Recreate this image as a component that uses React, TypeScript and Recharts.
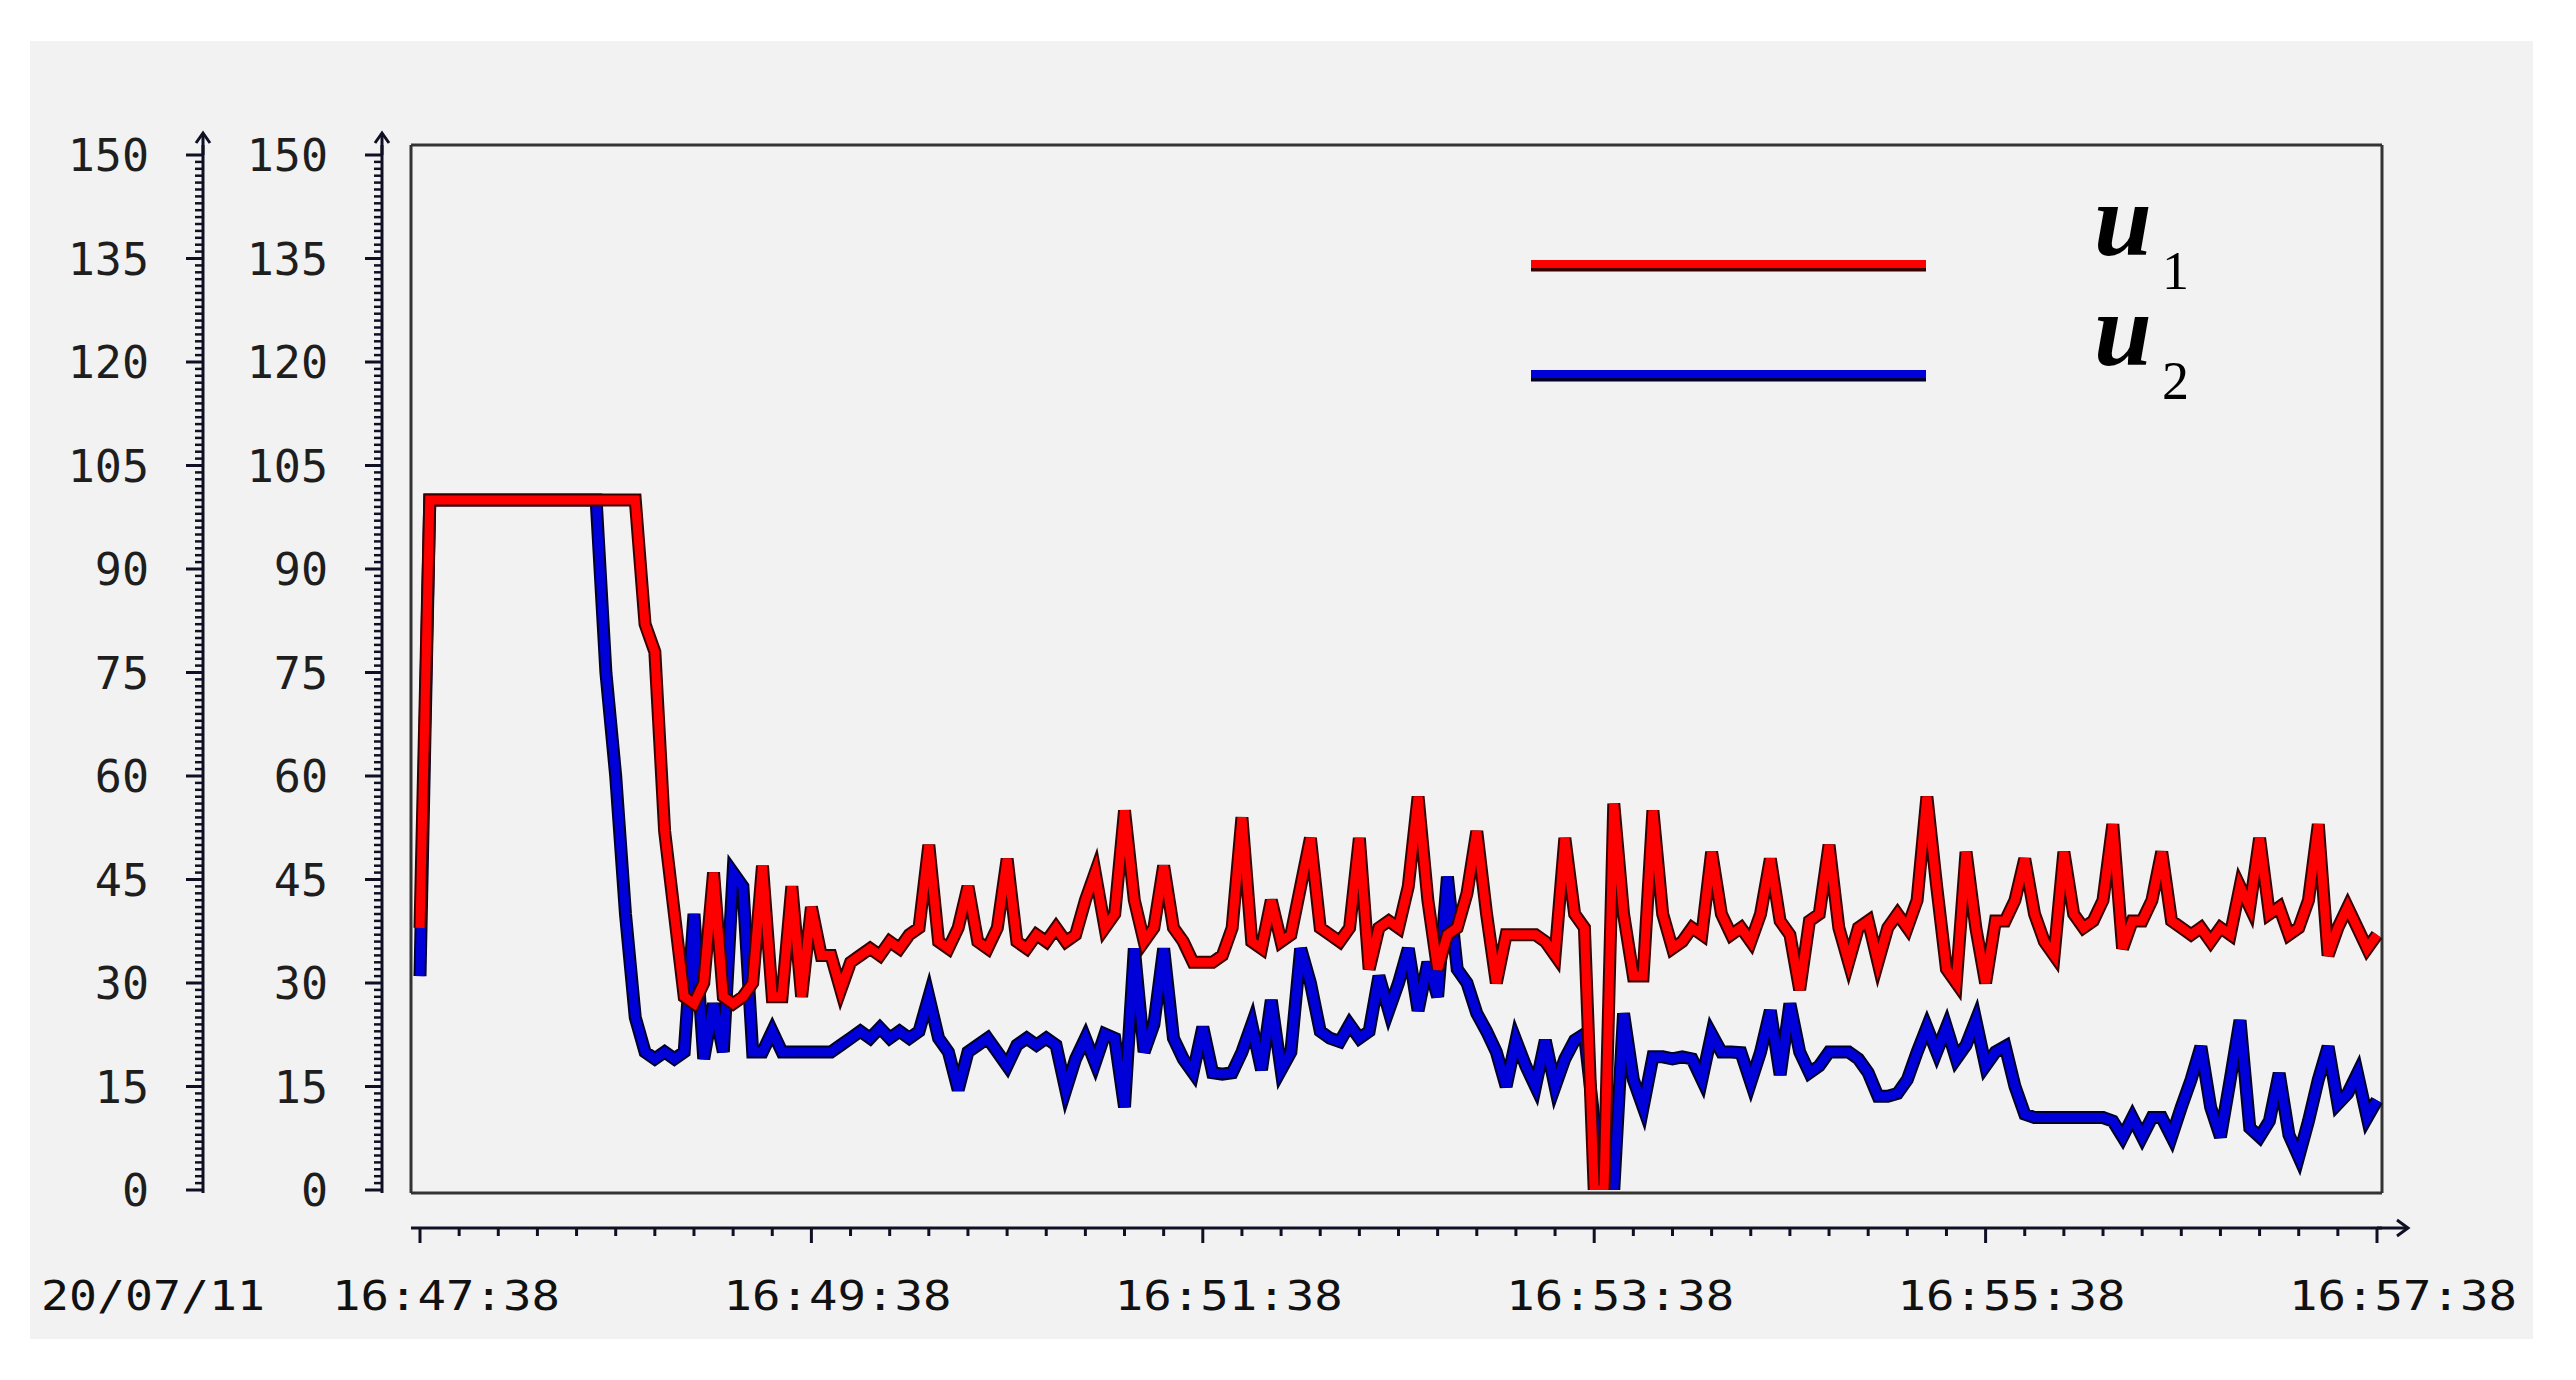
import React from "react";
import { CartesianGrid, Legend, Line, LineChart, XAxis, YAxis } from "recharts";

// sample period of the logger, seconds
const SAMPLE_SEC = 3;

// u1 (red), one value every 3 s from 16:47:38 to 16:57:38
const u1Values = [
  38, 100, 100, 100, 100, 100, 100, 100, 100, 100,
  100, 100, 100, 100, 100, 100, 100, 100, 100, 100,
  100, 100, 100, 82, 78, 52, 40, 28, 27, 30,
  46, 28, 27, 28, 30, 47, 28, 28, 44, 28,
  41, 34, 34, 29, 33, 34, 35, 34, 36, 35,
  37, 38, 50, 36, 35, 38, 44, 36, 35, 38,
  48, 36, 35, 37, 36, 38, 36, 37, 42, 46,
  38, 40, 55, 42, 36, 38, 47, 38, 36, 33,
  33, 33, 34, 38, 54, 36, 35, 42, 36, 37,
  44, 51, 38, 37, 36, 38, 51, 32, 38, 39,
  38, 44, 57, 42, 32, 37, 38, 43, 52, 40,
  30, 37, 37, 37, 37, 36, 34, 51, 40, 38,
  0, 0, 56, 40, 31, 31, 55, 40, 35, 36,
  38, 37, 49, 40, 37, 38, 36, 40, 48, 39,
  37, 29, 39, 40, 50, 38, 33, 38, 39, 33,
  38, 40, 38, 42, 57, 44, 32, 30, 49, 38,
  30, 39, 39, 42, 48, 40, 36, 34, 49, 40,
  38, 39, 42, 53, 35, 39, 39, 42, 49, 39,
  38, 37, 38, 36, 38, 37, 44, 41, 51, 40,
  41, 37, 38, 42, 53, 34, 38, 41, 38, 35,
  37,
];

// u2 (blue)
const u2Values = [
  31, 100, 100, 100, 100, 100, 100, 100, 100, 100,
  100, 100, 100, 100, 100, 100, 100, 100, 100, 75,
  60, 40, 25, 20, 19, 20, 19, 20, 40, 19,
  27, 20, 46, 44, 20, 20, 23, 20, 20, 20,
  20, 20, 20, 21, 22, 23, 22, 23.5, 22, 23,
  22, 23, 28, 22, 20, 14.5, 20, 21, 22, 20,
  18, 21, 22, 21, 22, 21, 14.5, 19, 22, 18.4,
  22.6, 22, 12, 35, 20, 24, 35, 22, 19, 17,
  23.6, 17, 16.8, 17, 20, 24, 17.4, 27.5, 17.4, 20,
  35, 30, 23, 22, 21.5, 24, 22, 23, 31, 26,
  30, 35, 26, 33, 28, 45.4, 32, 30, 25.6, 23,
  20, 15, 21.7, 18, 15, 21.7, 15, 19, 21.7, 22.6,
  10, 0, 0, 25.6, 16, 12, 19.3, 19.3, 19, 19.3,
  19, 16, 22.6, 20, 20, 19.9, 15.6, 20, 26, 16.7,
  27, 20, 17, 18, 20, 20, 20, 19, 17, 13.6,
  13.6, 14, 16, 20, 23.6, 20, 23.6, 19, 21, 24.6,
  18, 20, 20.8, 15, 11, 10.5, 10.5, 10.5, 10.5, 10.5,
  10.5, 10.5, 10.5, 10, 7.7, 10.5, 7.7, 10.5, 10.5, 7.7,
  12, 16, 20.8, 12, 7.7, 16, 24.6, 9, 7.7, 10,
  16.9, 8, 4.8, 10, 16, 20.8, 12.5, 14, 16.9, 10.5,
  13,
];

const dateLabel = "20/07/11";
const timeLabels = ["16:47:38", "16:49:38", "16:51:38", "16:53:38", "16:55:38", "16:57:38"];
const majorStepSec = 120;
const minorStepSec = 12;
const totalSec = 600;
const yMax = 150;
const yMajorStep = 15;

const xTicks = Array.from({ length: totalSec / minorStepSec + 1 }, (_, i) => i * minorStepSec);
const yTicks = Array.from({ length: yMax + 1 }, (_, i) => i);

const data = u1Values.map((v, i) => ({ t: i * SAMPLE_SEC, u1: v, u2: u2Values[i] }));

const AXIS_COLOR = "#101024";
const monoFont = "'DejaVu Sans Mono', monospace";

const YTick = (props: any) => {
  const { x, y, payload } = props;
  const v = payload.value;
  const major = v % yMajorStep === 0;
  return (
    <g>
      <line
        x1={x - (major ? 17 : 8)}
        y1={y}
        x2={x}
        y2={y}
        stroke={AXIS_COLOR}
        strokeWidth={major ? 3 : 2.5}
      />
      {major && (
        <text
          x={x - 54}
          y={y + 16}
          textAnchor="end"
          fontFamily={monoFont}
          fontSize={45}
          fill="#1e1e1e"
        >
          {v}
        </text>
      )}
      {v === yMax && (
        <g stroke={AXIS_COLOR} strokeWidth={3} fill="none">
          <line x1={x} y1={y} x2={x} y2={y - 22} />
          <polyline points={`${x - 7},${y - 12} ${x},${y - 22} ${x + 7},${y - 12}`} />
        </g>
      )}
    </g>
  );
};

const XTick = (props: any) => {
  const { x, y, payload } = props;
  const v = payload.value;
  const major = v % majorStepSec === 0;
  return (
    <g>
      <line x1={x} y1={y} x2={x} y2={y + (major ? 15 : 8)} stroke={AXIS_COLOR} strokeWidth={3} />
      {major && (
        <text
          x={x + 26}
          y={y + 82}
          textAnchor="middle"
          fontFamily={monoFont}
          fontSize={41}
          textLength={228}
          lengthAdjust="spacingAndGlyphs"
          fill="#111"
        >
          {timeLabels[v / majorStepSec]}
        </text>
      )}
      {v === 0 && (
        <text
          x={x - 267}
          y={y + 82}
          textAnchor="middle"
          fontFamily={monoFont}
          fontSize={41}
          textLength={224}
          lengthAdjust="spacingAndGlyphs"
          fill="#111"
        >
          {dateLabel}
        </text>
      )}
      {v === totalSec && (
        <g stroke={AXIS_COLOR} strokeWidth={3} fill="none">
          <line x1={x} y1={y} x2={x + 31} y2={y} />
          <polyline points={`${x + 20},${y - 8} ${x + 31},${y} ${x + 20},${y + 8}`} />
        </g>
      )}
    </g>
  );
};

const seriesStyle: Record<string, { color: string; edge: string; sub: string }> = {
  u1: { color: "#ff0000", edge: "#3a0000", sub: "1" },
  u2: { color: "#0000d8", edge: "#00002a", sub: "2" },
};

const LegendContent = (props: any) => {
  const entries = (props.payload || [])
    .filter((e: any) => e.value === "u1" || e.value === "u2")
    .sort((a: any, b: any) => (a.value < b.value ? -1 : 1));
  return (
    <svg width={900} height={340} style={{ overflow: "visible" }}>
      {entries.map((e: any, i: number) => {
        const s = seriesStyle[e.value];
        const ly = 165 + i * 110;
        return (
          <g key={e.value}>
            <line x1={31} y1={ly + 2} x2={426} y2={ly + 2} stroke={s.edge} strokeWidth={9} />
            <line x1={31} y1={ly - 1} x2={426} y2={ly - 1} stroke={s.color} strokeWidth={8} />
            <text
              x={594}
              y={ly - 10}
              fontFamily="'Liberation Serif', serif"
              fontWeight="bold"
              fontStyle="italic"
              fontSize={104}
              fill="#000"
            >
              u
            </text>
            <text x={662} y={ly + 24} fontFamily="'Liberation Serif', serif" fontSize={54} fill="#000">
              {s.sub}
            </text>
          </g>
        );
      })}
    </svg>
  );
};

export default function App() {
  return (
    <div
      style={{
        position: "absolute",
        left: 0,
        top: 0,
        width: 2576,
        height: 1380,
        background: "#ffffff",
        overflow: "hidden",
      }}
    >
      <div
        style={{
          position: "absolute",
          left: 30,
          top: 41,
          width: 2503,
          height: 1298,
          background: "#f2f2f2",
        }}
      />
      <div style={{ position: "absolute", left: 0, top: 0 }}>
        <LineChart
          width={2576}
          height={1380}
          data={data}
          margin={{ top: 145, right: 194, bottom: 52, left: 24 }}
        >
          <XAxis
            xAxisId="base"
            dataKey="t"
            type="number"
            domain={[0, totalSec]}
            padding={{ left: 9, right: 5 }}
            height={35}
            tick={false}
            tickLine={false}
            axisLine={false}
          />
          <XAxis
            xAxisId="time"
            dataKey="t"
            type="number"
            domain={[0, totalSec]}
            padding={{ left: 9, right: 5 }}
            height={100}
            ticks={xTicks}
            interval={0}
            tickSize={0}
            tickMargin={0}
            tickLine={false}
            axisLine={{ stroke: AXIS_COLOR, strokeWidth: 3 }}
            tick={<XTick />}
          />
          <YAxis
            yAxisId="base"
            type="number"
            domain={[0, yMax]}
            allowDataOverflow
            padding={{ top: 10, bottom: 3 }}
            width={29}
            tick={false}
            tickLine={false}
            axisLine={false}
          />
          <YAxis
            yAxisId="y2"
            type="number"
            domain={[0, yMax]}
            allowDataOverflow
            padding={{ top: 10, bottom: 3 }}
            width={179}
            ticks={yTicks}
            interval={0}
            tickSize={0}
            tickMargin={0}
            tickLine={false}
            axisLine={{ stroke: AXIS_COLOR, strokeWidth: 3 }}
            tick={<YTick />}
          />
          <YAxis
            yAxisId="y1"
            type="number"
            domain={[0, yMax]}
            allowDataOverflow
            padding={{ top: 10, bottom: 3 }}
            width={179}
            ticks={yTicks}
            interval={0}
            tickSize={0}
            tickMargin={0}
            tickLine={false}
            axisLine={{ stroke: AXIS_COLOR, strokeWidth: 3 }}
            tick={<YTick />}
          />
          <CartesianGrid
            xAxisId="base"
            yAxisId="base"
            stroke="#333333"
            strokeWidth={3}
            horizontalCoordinatesGenerator={({ offset }: any) => [offset.top, offset.top + offset.height]}
            verticalCoordinatesGenerator={({ offset }: any) => [offset.left, offset.left + offset.width]}
          />
          <Legend
            layout="horizontal"
            verticalAlign="middle"
            align="center"
            wrapperStyle={{ left: 1500, top: 100, width: 900, height: 340 }}
            content={<LegendContent />}
          />
          {/* invisible series so the two scale axes get their ticks */}
          <Line
            xAxisId="base"
            yAxisId="y1"
            dataKey="u1"
            name="scale1"
            stroke="none"
            dot={false}
            activeDot={false}
            legendType="none"
            isAnimationActive={false}
          />
          <Line
            xAxisId="base"
            yAxisId="y2"
            dataKey="u2"
            name="scale2"
            stroke="none"
            dot={false}
            activeDot={false}
            legendType="none"
            isAnimationActive={false}
          />
          <Line
            xAxisId="base"
            yAxisId="base"
            type="linear"
            dataKey="u2"
            name="u2 edge"
            stroke={seriesStyle.u2.edge}
            strokeWidth={13}
            dot={false}
            activeDot={false}
            legendType="none"
            isAnimationActive={false}
          />
          <Line
            xAxisId="base"
            yAxisId="base"
            type="linear"
            dataKey="u2"
            name="u2"
            stroke={seriesStyle.u2.color}
            strokeWidth={9}
            dot={false}
            activeDot={false}
            isAnimationActive={false}
          />
          <Line
            xAxisId="base"
            yAxisId="base"
            type="linear"
            dataKey="u1"
            name="u1 edge"
            stroke={seriesStyle.u1.edge}
            strokeWidth={13}
            dot={false}
            activeDot={false}
            legendType="none"
            isAnimationActive={false}
          />
          <Line
            xAxisId="base"
            yAxisId="base"
            type="linear"
            dataKey="u1"
            name="u1"
            stroke={seriesStyle.u1.color}
            strokeWidth={9}
            dot={false}
            activeDot={false}
            isAnimationActive={false}
          />
        </LineChart>
      </div>
    </div>
  );
}
